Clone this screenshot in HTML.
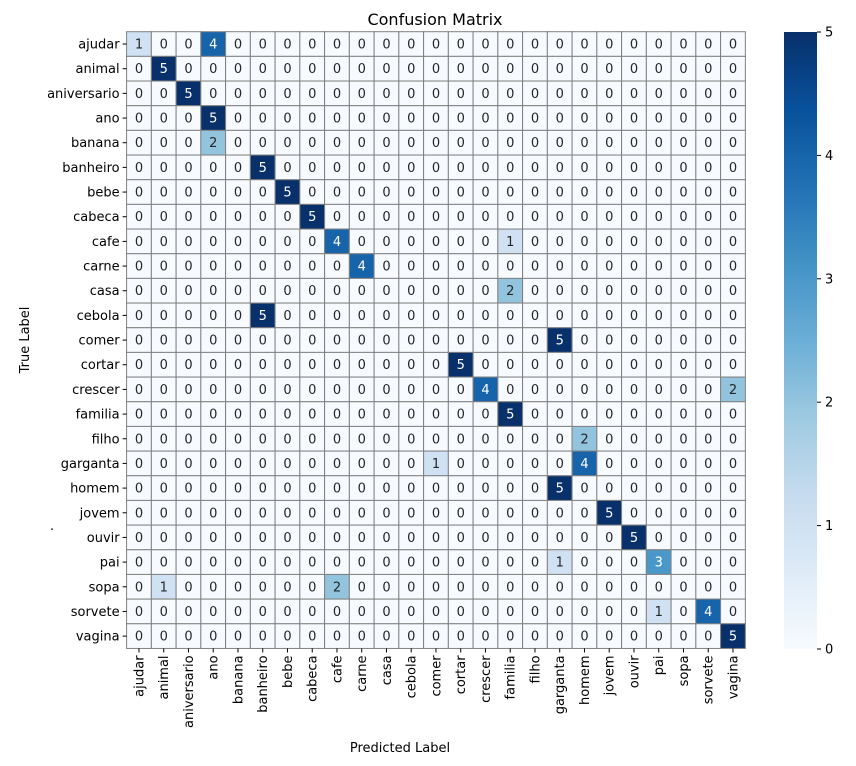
<!DOCTYPE html>
<html><head><meta charset="utf-8"><style>
html,body{margin:0;padding:0;background:#fff;}
svg text{font-family:"DejaVu Sans","Liberation Sans",sans-serif;}
</style></head><body>
<svg id="s" width="856" height="761" xmlns="http://www.w3.org/2000/svg">
<defs><linearGradient id="g" x1="0" y1="1" x2="0" y2="0">
<stop offset="0" stop-color="#f7fbff"/><stop offset="0.125" stop-color="#deebf7"/>
<stop offset="0.25" stop-color="#c6dbef"/><stop offset="0.375" stop-color="#9ecae1"/>
<stop offset="0.5" stop-color="#6baed6"/><stop offset="0.625" stop-color="#4292c6"/>
<stop offset="0.75" stop-color="#2171b5"/><stop offset="0.875" stop-color="#08519c"/>
<stop offset="1" stop-color="#08306b"/></linearGradient></defs>
<text x="435" y="25" font-size="16" text-anchor="middle">Confusion Matrix</text>
<g id="m"></g>
<rect x="784" y="32" width="33" height="617" fill="url(#g)"/>
<g font-size="13" id="cb"></g>
<text x="400" y="752" font-size="13" text-anchor="middle">Predicted Label</text>
<text transform="translate(29,340) rotate(-90)" font-size="13" text-anchor="middle">True Label</text>
<text x="50" y="530" font-size="13">.</text>
</svg>
<script>
var L=["ajudar","animal","aniversario","ano","banana","banheiro","bebe","cabeca","cafe","carne","casa","cebola","comer","cortar","crescer","familia","filho","garganta","homem","jovem","ouvir","pai","sopa","sorvete","vagina"];
var nz={"0,0":1,"0,3":4,"1,1":5,"2,2":5,"3,3":5,"4,3":2,"5,5":5,"6,6":5,"7,7":5,"8,8":4,"8,15":1,"9,9":4,"10,15":2,"11,5":5,"12,17":5,"13,13":5,"14,14":4,"14,24":2,"15,15":5,"16,18":2,"17,12":1,"17,18":4,"18,17":5,"19,19":5,"20,20":5,"21,17":1,"21,21":3,"22,1":1,"22,8":2,"23,21":1,"23,23":4,"24,24":5};
var C=["#f7fbff","#cfe1f2","#93c4de","#4a98c9","#1764ab","#08306b"];
var x0=126.6,y0=31.7,w=24.75,h=24.67,s="";
for(var r=0;r<25;r++){for(var c=0;c<25;c++){var v=nz[r+","+c]||0;var x=x0+c*w,y=y0+r*h;
s+='<rect x="'+x+'" y="'+y+'" width="'+w+'" height="'+h+'" fill="'+C[v]+'" stroke="#808080" stroke-width="1"/>';
s+='<text x="'+(x+w/2)+'" y="'+(y+h/2+4.5)+'" font-size="13" text-anchor="middle" fill="'+(v>=3?"#fff":"#262626")+'">'+v+'</text>';}}
for(var i=0;i<25;i++){var yy=y0+i*h+h/2;
s+='<line x1="'+(x0-4)+'" y1="'+yy+'" x2="'+x0+'" y2="'+yy+'" stroke="#000"/>';
s+='<text x="'+(x0-7)+'" y="'+(yy+4.5)+'" font-size="13" text-anchor="end">'+L[i]+'</text>';
var xx=x0+i*w+w/2;
s+='<line x1="'+xx+'" y1="'+(y0+25*h)+'" x2="'+xx+'" y2="'+(y0+25*h+4)+'" stroke="#000"/>';
s+='<text transform="translate('+(xx+4.5)+','+(y0+25*h+7)+') rotate(-90)" font-size="13" text-anchor="end">'+L[i]+'</text>';}
document.getElementById("m").innerHTML=s;
var t="";for(var k=0;k<=5;k++){var yy=649-k*123.4;
t+='<line x1="817" y1="'+yy+'" x2="821" y2="'+yy+'" stroke="#000"/><text x="825" y="'+(yy+4.5)+'">'+k+'</text>';}
document.getElementById("cb").innerHTML=t;
</script>
</body></html>
